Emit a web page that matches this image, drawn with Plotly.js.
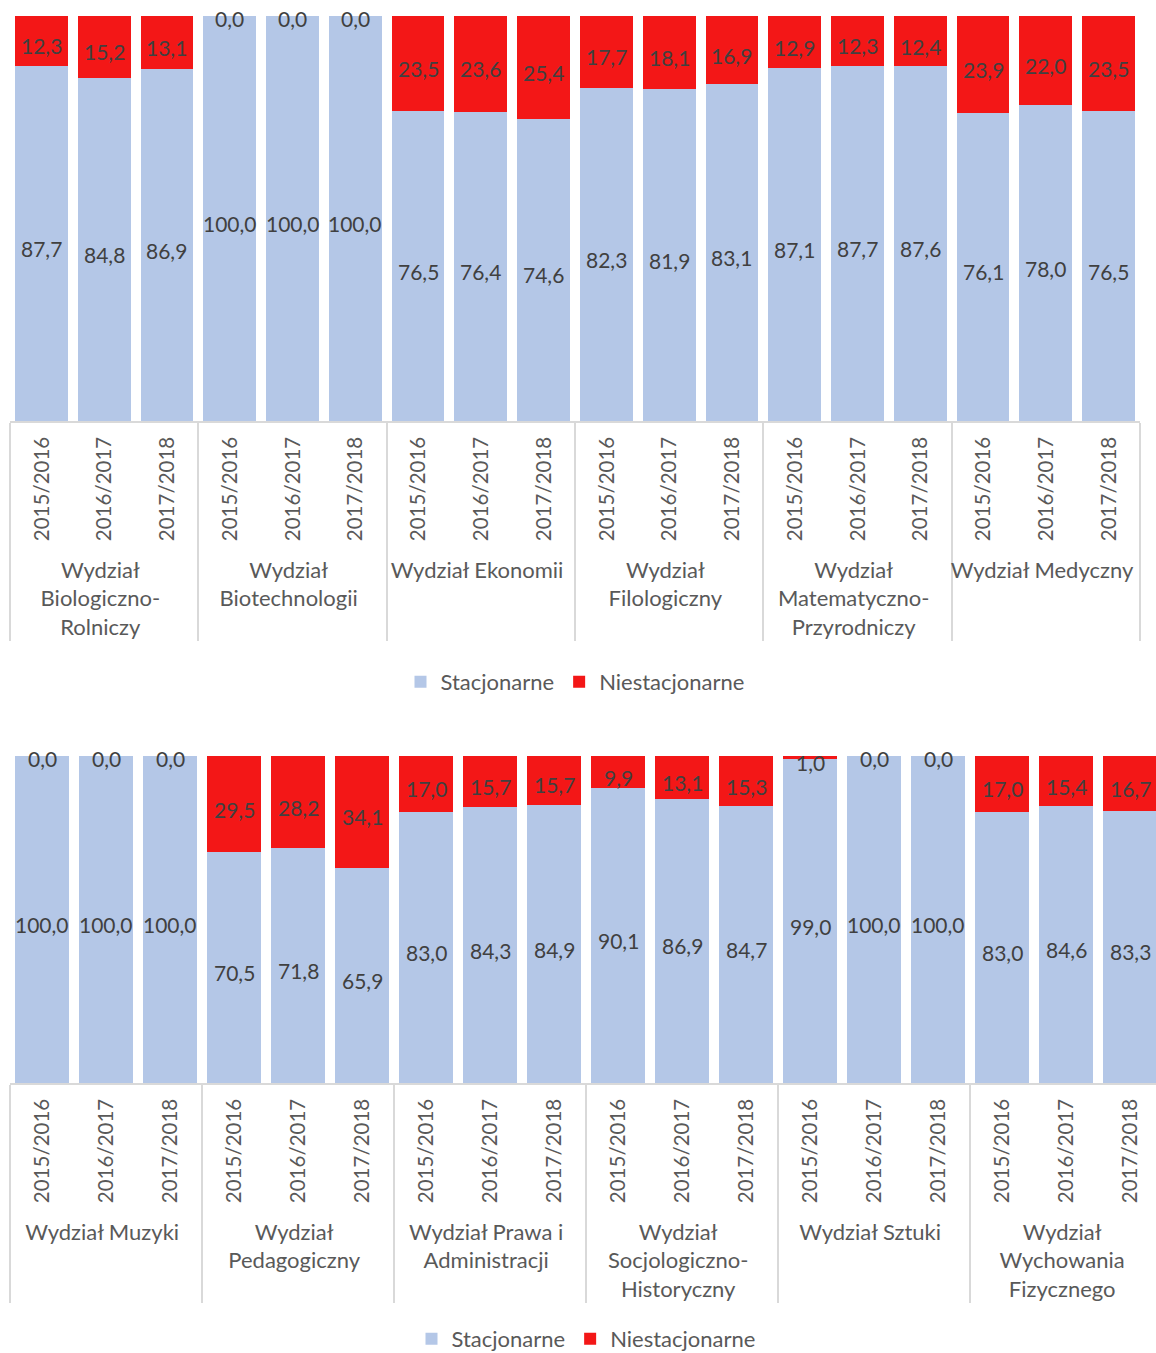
<!DOCTYPE html>
<html>
<head>
<meta charset="utf-8">
<script src="https://cdn.plot.ly/plotly-3.0.1.min.js"></script>
<style>
  html, body { margin: 0; padding: 0; background: #fff; overflow: hidden; width: 1156px; height: 1353px; }
  #top { position: absolute; left: 0; top: 0; width: 1156px; height: 740px; }
  #bottom { position: absolute; left: 0; top: 740px; width: 1172px; height: 613px; }
</style>
</head>
<body>
<div id="top"></div>
<div id="bottom"></div>
<script>
// ---------- DATA ----------
const years = ["2015/2016", "2016/2017", "2017/2018"];

const facultiesTop = [
  "Wydział<br>Biologiczno-<br>Rolniczy",
  "Wydział<br>Biotechnologii",
  "Wydział Ekonomii",
  "Wydział<br>Filologiczny",
  "Wydział<br>Matematyczno-<br>Przyrodniczy",
  "Wydział Medyczny"
];
const stacjonarneTop = [
  87.7, 84.8, 86.9,
  100.0, 100.0, 100.0,
  76.5, 76.4, 74.6,
  82.3, 81.9, 83.1,
  87.1, 87.7, 87.6,
  76.1, 78.0, 76.5
];
const niestacjonarneTop = [
  12.3, 15.2, 13.1,
  0.0, 0.0, 0.0,
  23.5, 23.6, 25.4,
  17.7, 18.1, 16.9,
  12.9, 12.3, 12.4,
  23.9, 22.0, 23.5
];

const facultiesBottom = [
  "Wydział Muzyki",
  "Wydział<br>Pedagogiczny",
  "Wydział Prawa i<br>Administracji",
  "Wydział<br>Socjologiczno-<br>Historyczny",
  "Wydział Sztuki",
  "Wydział<br>Wychowania<br>Fizycznego"
];
const stacjonarneBottom = [
  100.0, 100.0, 100.0,
  70.5, 71.8, 65.9,
  83.0, 84.3, 84.9,
  90.1, 86.9, 84.7,
  99.0, 100.0, 100.0,
  83.0, 84.6, 83.3
];
const niestacjonarneBottom = [
  0.0, 0.0, 0.0,
  29.5, 28.2, 34.1,
  17.0, 15.7, 15.7,
  9.9, 13.1, 15.3,
  1.0, 0.0, 0.0,
  17.0, 15.4, 16.7
];

const seriesNames = ["Stacjonarne", "Niestacjonarne"];

// ---------- STYLE ----------
const FONT = "Lato, 'Open Sans', sans-serif";
const BLUE = "#B4C7E7";
const RED = "#F31717";
const LABEL = "#404040";
const TICK = "#595959";
const GRID = "#D9D9D9";

function fmt(v) { return v.toFixed(1).replace(".", ","); }

function buildX(faculties) {
  const g = [], y = [];
  faculties.forEach(f => years.forEach(yr => {
    g.push(f);
    y.push('<span style="font-size:20.5px">' + yr + '</span>');
  }));
  return [g, y];
}

function makeChart(div, faculties, stac, niest, opts) {
  const x = buildX(faculties);
  const n = stac.length;
  const traces = [
    { type: "bar", name: seriesNames[0], x: x, y: stac, marker: { color: BLUE }, hoverinfo: "skip" },
    { type: "bar", name: seriesNames[1], x: x, y: niest, marker: { color: RED }, hoverinfo: "skip" }
  ];
  // value labels, centred on each segment (position derived from the data)
  const annotations = [];
  for (let i = 0; i < n; i++) {
    annotations.push({
      xref: "x", yref: "y", x: i, y: stac[i] / 2, text: fmt(stac[i]),
      showarrow: false, yshift: -5, font: { family: FONT, size: 21, color: LABEL }
    });
    annotations.push({
      xref: "x", yref: "y", x: i, y: stac[i] + niest[i] / 2, text: fmt(niest[i]),
      showarrow: false, yshift: niest[i] === 0 ? -2 : -5, font: { family: FONT, size: 21, color: LABEL }
    });
  }
  const layout = {
    barmode: "stack",
    bargap: 0.16,
    width: opts.width,
    height: opts.height,
    margin: Object.assign({ autoexpand: false }, opts.margin),
    paper_bgcolor: "#fff",
    plot_bgcolor: "#fff",
    font: { family: FONT, color: TICK },
    showlegend: true,
    legend: {
      orientation: "h", x: 0.5, xanchor: "center", yanchor: "middle", y: opts.legendY,
      itemwidth: 30,
      font: { family: FONT, size: 22, color: TICK }, traceorder: "normal"
    },
    annotations: annotations,
    xaxis: {
      type: "multicategory",
      automargin: false,
      range: [-0.5, n - 0.5],
      showline: true, linecolor: GRID, linewidth: 2,
      ticks: "", tickangle: -90, ticklabelstandoff: 5,
      tickfont: { family: FONT, size: 22, color: TICK },
      showdividers: true, dividercolor: GRID, dividerwidth: 2,
      showgrid: false, zeroline: false
    },
    yaxis: { range: [0, 100], visible: false, showgrid: false, zeroline: false, fixedrange: true, automargin: false }
  };
  Plotly.newPlot(div, traces, layout, { staticPlot: true, displayModeBar: false });
}

// top: plot area 10..1140 x 16..421
makeChart("top", facultiesTop, stacjonarneTop, niestacjonarneTop, {
  width: 1156, height: 740,
  margin: { l: 10, r: 16, t: 16, b: 319 },
  legendY: (421 - 682) / 405
});

// bottom: plot area 10..1162 x 756..1083 (page coords)
makeChart("bottom", facultiesBottom, stacjonarneBottom, niestacjonarneBottom, {
  width: 1172, height: 613,
  margin: { l: 10, r: 10, t: 16, b: 270 },
  legendY: (1083 - 1339) / 327
});
</script>
</body>
</html>
